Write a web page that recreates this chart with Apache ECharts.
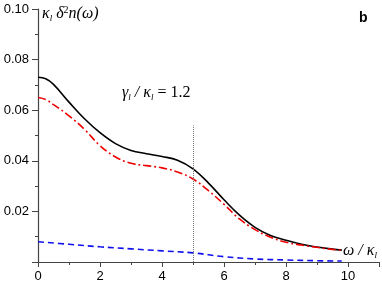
<!DOCTYPE html>
<html><head><meta charset="utf-8">
<script src="https://cdn.jsdelivr.net/npm/echarts@6/dist/echarts.min.js"></script>
<style>html,body{margin:0;padding:0;background:#fff}#c{width:382px;height:286px}</style>
</head><body><div id="c"></div>
<script>
const xLine = [0,0.25,0.5,1,1.5,2,2.5,3,3.5,4,4.5,5,5.5,6,6.5,7,7.5,8,8.5,9,9.5,9.8];
const blackVals = [0.0730,0.0724,0.0702,0.0632,0.0566,0.0511,0.0468,0.0441,0.0428,0.0417,0.0402,0.0368,0.0312,0.0246,0.0185,0.0137,0.0105,0.0086,0.0070,0.0059,0.0051,0.0047];
const redVals   = [0.0650,0.0642,0.0622,0.0578,0.0524,0.0460,0.0415,0.0390,0.0381,0.0372,0.0356,0.0328,0.0282,0.0228,0.0170,0.0128,0.0098,0.0078,0.0067,0.0058,0.0050,0.0046];
const xBlue = [0,1,2,3,4,5,6,7,8,9,9.8];
const blueVals = [0.0080,0.0070,0.0060,0.0052,0.0044,0.0036,0.0021,0.0012,0.0008,0.0005,0.0004];
const markerX = 5;
const markerTop = 0.054;

const pairs = (xs, ys) => xs.map((x, i) => [x, ys[i]]);
const serif = '"Liberation Serif","Times New Roman",serif';
const sans = '"Liberation Sans", Arial, sans-serif';
const chart = echarts.init(document.getElementById('c'), null, {renderer: 'canvas'});
chart.setOption({
  animation: false,
  backgroundColor: '#fff',
  grid: {left: 38, right: 3, top: 9, bottom: 24},
  xAxis: {
    type: 'value', min: 0, max: 11, interval: 2,
    axisLine: {lineStyle: {color: '#444', width: 1.2}},
    axisTick: {length: 5, lineStyle: {color: '#444'}},
    minorTick: {show: true, splitNumber: 2, length: 3, lineStyle: {color: '#444'}},
    splitLine: {show: false},
    axisLabel: {margin: 8, color: '#000', fontFamily: sans, fontSize: 13,
      formatter: v => (v > 10 ? '' : String(v))}
  },
  yAxis: {
    type: 'value', min: 0, max: 0.1, interval: 0.02,
    axisLine: {show: true, lineStyle: {color: '#444', width: 1.2}},
    axisTick: {show: true, length: 6, lineStyle: {color: '#444'}},
    minorTick: {show: true, splitNumber: 2, length: 3, lineStyle: {color: '#444'}},
    splitLine: {show: false},
    axisLabel: {margin: 9, color: '#000', fontFamily: sans, fontSize: 13,
      formatter: v => (v === 0 ? '' : v.toFixed(2))}
  },
  series: [
    {type: 'line', data: pairs(xLine, blackVals), smooth: 0.4, showSymbol: false,
     lineStyle: {color: '#000', width: 1.6},
     markLine: {silent: true, symbol: 'none', label: {show: false},
       lineStyle: {color: '#777', type: 'dotted', width: 1},
       data: [[{coord: [markerX, 0]}, {coord: [markerX, markerTop]}]]}},
    {type: 'line', data: pairs(xLine, redVals), smooth: 0.4, showSymbol: false,
     lineStyle: {color: '#ee0000', width: 1.6, type: [8, 3, 2, 3]}},
    {type: 'line', data: pairs(xBlue, blueVals), smooth: 0.4, showSymbol: false,
     lineStyle: {color: '#1010ee', width: 1.6, type: [6, 4]}}
  ],
  graphic: [
    {type: 'text', left: 42, top: 5, style: {
      text: '{i|κ}{s|l}{i| δ}{p|2}{i|n(ω)}',
      rich: {
        i: {fontFamily: serif, fontStyle: 'italic', fontSize: 16, lineHeight: 18, fill: '#000'},
        s: {fontFamily: serif, fontStyle: 'italic', fontSize: 9, lineHeight: 9, verticalAlign: 'bottom', fill: '#000'},
        p: {fontFamily: serif, fontSize: 10, lineHeight: 10, verticalAlign: 'top', fill: '#000'}
      }}},
    {type: 'text', left: 122, top: 85, style: {
      text: '{i|γ}{s|l}{i| / κ}{s|l}{n| = 1.2}',
      rich: {
        i: {fontFamily: serif, fontStyle: 'italic', fontSize: 16, lineHeight: 18, fill: '#000'},
        s: {fontFamily: serif, fontStyle: 'italic', fontSize: 9, lineHeight: 9, verticalAlign: 'bottom', fill: '#000'},
        n: {fontFamily: serif, fontSize: 16, lineHeight: 18, fill: '#000'}
      }}},
    {type: 'text', left: 343, top: 243, style: {
      text: '{i|ω / κ}{s|l}',
      rich: {
        i: {fontFamily: serif, fontStyle: 'italic', fontSize: 16, lineHeight: 18, fill: '#000'},
        s: {fontFamily: serif, fontStyle: 'italic', fontSize: 9, lineHeight: 9, verticalAlign: 'bottom', fill: '#000'}
      }}},
    {type: 'text', left: 359, top: 11, style: {
      text: 'b', fontFamily: sans, fontWeight: 'bold', fontSize: 14, fill: '#000'}}
  ]
});
</script></body></html>
